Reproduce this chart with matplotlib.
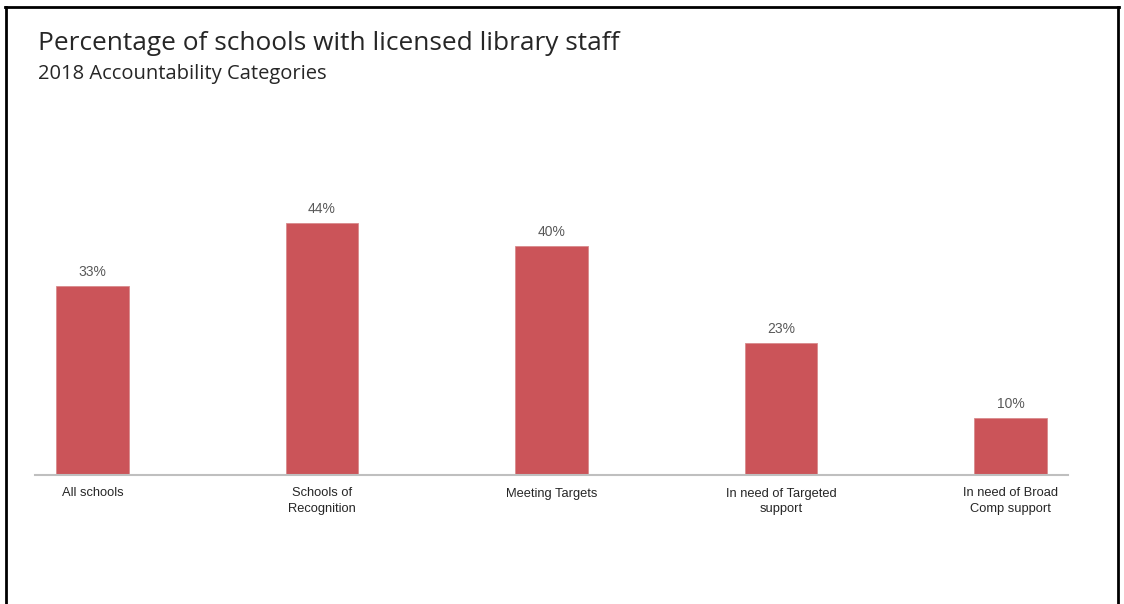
import matplotlib
matplotlib.use("Agg")
import matplotlib.pyplot as plt
from matplotlib.lines import Line2D

categories = ["All schools", "Schools of\nRecognition", "Meeting Targets",
              "In need of Targeted\nsupport", "In need of Broad\nComp support"]
values = [33, 44, 40, 23, 10]
value_labels = ["33%", "44%", "40%", "23%", "10%"]

W, H = 1124, 604
fig = plt.figure(figsize=(W / 100, H / 100), dpi=100)
fig.patch.set_facecolor("white")

left_px, right_px, base_px, top_px = 35, 1068, 475, 189
ax = fig.add_axes([left_px / W, (H - base_px) / H,
                   (right_px - left_px) / W, (base_px - top_px) / H])

x = list(range(len(categories)))
ax.bar(x, values, width=0.315, color="#CB5459", edgecolor="#D98A8D", linewidth=0.6, zorder=2)
ax.set_xlim(-0.25, len(categories) - 0.75)
ax.set_ylim(0, 50)

for xi, v, lab in zip(x, values, value_labels):
    ax.annotate(lab, (xi, v), xytext=(0, 5), textcoords="offset points",
                ha="center", va="bottom", fontsize=10, color="#595959",
                family="Liberation Sans")

ax.set_xticks(x)
ax.set_xticklabels(categories, fontsize=9.3, color="#262626", family="Liberation Sans",
                   linespacing=1.35)
ax.tick_params(axis="x", length=0, pad=9)
ax.set_yticks([])
for s in ["top", "right", "left"]:
    ax.spines[s].set_visible(False)
ax.spines["bottom"].set_color("#BFBFBF")
ax.spines["bottom"].set_linewidth(1.5)

fig.text(38 / W, 1 - 44 / H, "Percentage of schools with licensed library staff",
         fontsize=18.9, color="#262626", family="Open Sans", va="center", ha="left")
fig.text(38 / W, 1 - 74 / H, "2018 Accountability Categories",
         fontsize=14.5, color="#262626", family="Open Sans", va="center", ha="left")

# outer frame (left, top, right)
fig.add_artist(Line2D([6 / W, 6 / W], [0, 1 - 7 / H], transform=fig.transFigure,
                      color="black", linewidth=2))
fig.add_artist(Line2D([5 / W, 1119 / W], [1 - 7 / H, 1 - 7 / H], transform=fig.transFigure,
                      color="black", linewidth=2))
fig.add_artist(Line2D([1118 / W, 1118 / W], [0, 1 - 7 / H], transform=fig.transFigure,
                      color="black", linewidth=2))

fig.savefig("out.png", dpi=100, facecolor="white")
